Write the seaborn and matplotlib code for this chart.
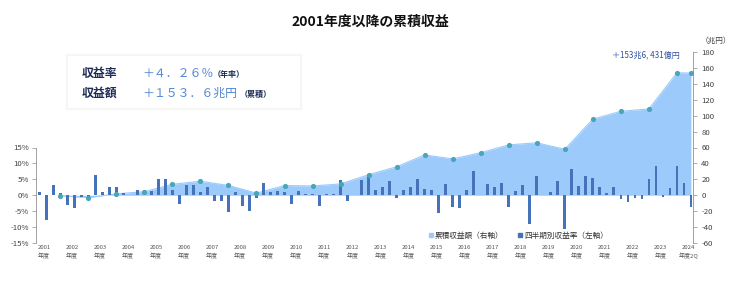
import numpy as np
import pandas as pd
import matplotlib
matplotlib.use("Agg")
import matplotlib.pyplot as plt
import seaborn as sns
from matplotlib.lines import Line2D
from matplotlib.patches import Rectangle

# ---------------- data ----------------
fiscal_years = list(range(2001, 2025))
quarterly_returns = [
    0.9, -7.8, 3.3, 0.8,     # 2001
    -3.0, -4.0, -0.5, -1.1,  # 2002
    6.3, 0.9, 2.5, 2.6,      # 2003
    0.7, 0.1, 1.7, 1.6,      # 2004
    1.3, 5.1, 5.2, 1.6,      # 2005
    -2.8, 3.1, 3.1, 0.9,     # 2006
    2.7, -1.9, -1.7, -5.4,   # 2007
    0.9, -3.4, -4.8, -0.8,   # 2008
    3.7, 0.9, 1.4, 1.1,      # 2009
    -2.8, 1.4, 0.5, 0.5,     # 2010
    -3.3, 0.3, 0.4, 4.8,     # 2011
    -1.8, 0.2, 4.8, 6.7,     # 2012
    1.6, 2.5, 4.6, -0.9,     # 2013
    1.6, 2.7, 5.1, 1.9,      # 2014
    1.6, -5.6, 3.4, -3.6,    # 2015
    -4.0, 1.6, 7.7, 0.2,     # 2016
    3.4, 2.7, 3.7, -3.6,     # 2017
    1.4, 3.3, -9.1, 5.9,     # 2018
    0.2, 0.9, 4.4, -10.7,    # 2019
    8.1, 2.9, 5.9, 5.4,      # 2020
    2.5, 0.8, 2.7, -1.3,     # 2021
    -2.0, -1.0, -1.1, 5.1,   # 2022
    9.2, -0.4, 2.4, 9.2,     # 2023
    3.7, -3.6,               # 2024 (to 2Q)
]
cumulative_trillion = [
    -0.6, -3.0, 1.8, 4.5, 13.8, 17.6, 12.3, 2.6, 12.2, 11.7, 14.2, 25.8,
    35.8, 50.7, 45.6, 53.5, 63.3, 65.9, 57.7, 95.6, 105.5, 108.4, 153.8, 153.6,
]
year_labels = [f"{y}\n年度" for y in fiscal_years[:-1]] + ["2024\n年度2Q"]
left_ticks = [-15, -10, -5, 0, 5, 10, 15]
left_tick_labels = ["-15%", "-10%", "-5%", "0%", "5%", "10%", "15%"]
right_ticks = [-60, -40, -20, 0, 20, 40, 60, 80, 100, 120, 140, 160, 180]
right_tick_labels = ["-60", "-40", "-20", "0", "20", "40", "60", "80", "100",
                     "120", "140", "160", "180"]

title = "2001年度以降の累積収益"
legend_labels = ["累積収益額（右軸）", "四半期別収益率（左軸）"]
total_note = "＋153兆6, 431億円"
unit_label = "（兆円）"

# ---------------- style ----------------
sns.set_style("white")
plt.rcParams["font.family"] = ["Noto Sans CJK JP", "DejaVu Sans"]
plt.rcParams["axes.unicode_minus"] = False

bar_color = "#4572b8"
area_color = "#9ccbfb"
dot_color = "#45a7b9"
axis_gray = "#a0a0a0"
text_gray = "#404040"

W, H = 749, 298
fig = plt.figure(figsize=(W / 100, H / 100), dpi=100)
fig.patch.set_facecolor("white")

def fx(px):
    return px / W

def fy(py):
    return 1 - py / H

# axes: left (bars), right (area), dots on top
ax = fig.add_axes([fx(36), fy(243), fx(693) - fx(36), fy(52) - fy(243)])
ax2 = ax.twinx()
ax3 = ax.twinx()
ax2.set_zorder(1)
ax.set_zorder(2)
ax3.set_zorder(3)
ax.patch.set_visible(False)

n_q = len(quarterly_returns)
df_q = pd.DataFrame({"pos": np.arange(n_q), "ret": quarterly_returns})
cum_pos = [4 * k + 3 for k in range(len(cumulative_trillion) - 1)] + [n_q - 1]
df_c = pd.DataFrame({"pos": cum_pos, "cum": cumulative_trillion})

# area (right axis)
ax2.fill_between(df_c["pos"], 0, df_c["cum"], color=area_color, lw=0)
sns.lineplot(data=df_c, x="pos", y="cum", ax=ax2, color=area_color, lw=0.8)

# bars (left axis)
sns.barplot(data=df_q, x="pos", y="ret", ax=ax, native_scale=True, width=0.38,
            color=bar_color, saturation=1, linewidth=0)

# dots
sns.scatterplot(data=df_c, x="pos", y="cum", ax=ax3, color=dot_color, s=14,
                linewidth=0, zorder=5)

xlim = (-0.47, n_q - 0.7)
for a in (ax, ax2, ax3):
    a.set_xlim(*xlim)
ax.set_ylim(-15, 45)
ax2.set_ylim(-60, 180)
ax3.set_ylim(-60, 180)
ax3.axis("off")

# left axis
ax.set_yticks(left_ticks)
ax.set_yticklabels(left_tick_labels)
for s in ("top", "right", "bottom"):
    ax.spines[s].set_visible(False)
ax.spines["left"].set_bounds(-15, 15)
ax.spines["left"].set_color(axis_gray)
ax.spines["left"].set_linewidth(0.7)
ax.tick_params(axis="y", direction="out", length=3, width=0.6, color=axis_gray,
               labelsize=5.6, labelcolor=text_gray, pad=2)
year_pos = [4 * k + 0.67 for k in range(len(fiscal_years))]
ax.set_xticks(year_pos)
ax.set_xticklabels(year_labels, fontsize=4.3, color="#555555", linespacing=1.5)
ax.tick_params(axis="x", length=0, pad=1.5)
ax.set_xlabel("")
ax.set_ylabel("")

# right axis
ax2.set_yticks(right_ticks)
ax2.set_yticklabels(right_tick_labels)
for s in ("top", "left", "bottom"):
    ax2.spines[s].set_visible(False)
ax2.spines["right"].set_color(axis_gray)
ax2.spines["right"].set_linewidth(0.7)
ax2.tick_params(axis="y", direction="out", length=3, width=0.6, color=axis_gray,
                labelsize=5.6, labelcolor=text_gray, pad=3)
ax2.set_ylabel("")

# title
fig.text(fx(370), fy(22), title, ha="center", va="center", fontsize=10,
         fontweight="bold", color="#111111")

# unit and note
fig.text(fx(716), fy(41), unit_label, ha="center", va="center", fontsize=5.5,
         color=text_gray)
fig.text(fx(646), fy(55), total_note, ha="center", va="center", fontsize=5.8,
         color="#2f4f9f")

# summary box with soft glow
for i, alpha in enumerate([0.025, 0.03, 0.035]):
    g = 3 - i
    fig.patches.append(Rectangle((fx(68 - g), fy(108 + g)), fx(232 + 2 * g),
                                 fy(0) - fy(52 + 2 * g),
                                 transform=fig.transFigure, facecolor="#888888",
                                 edgecolor="none", alpha=alpha, zorder=1))
fig.patches.append(Rectangle((fx(68), fy(108)), fx(232), fy(0) - fy(52),
                             transform=fig.transFigure, facecolor="white",
                             edgecolor="none", zorder=2))

navy = "#1d2d55"
blue = "#4f86d6"
fig.text(fx(82), fy(73), "収益率", ha="left", va="center", fontsize=8.6,
         fontweight="bold", color=navy, zorder=3)
fig.text(fx(142), fy(73), "＋４．２６％", ha="left", va="center", fontsize=8.6,
         color=blue, zorder=3)
fig.text(fx(213), fy(74), "（年率）", ha="left", va="center", fontsize=5.8,
         fontweight="bold", color=navy, zorder=3)
fig.text(fx(82), fy(93), "収益額", ha="left", va="center", fontsize=8.6,
         fontweight="bold", color=navy, zorder=3)
fig.text(fx(142), fy(93), "＋１５３．６兆円", ha="left", va="center", fontsize=8.6,
         color=blue, zorder=3)
fig.text(fx(240), fy(94), "（累積）", ha="left", va="center", fontsize=5.8,
         fontweight="bold", color=navy, zorder=3)

# legend
handles = [
    Line2D([], [], marker="s", ls="none", color=area_color, markersize=3.2,
           label=legend_labels[0]),
    Line2D([], [], marker="s", ls="none", color=bar_color, markersize=3.2,
           label=legend_labels[1]),
]
leg = fig.legend(handles=handles, loc="center", bbox_to_anchor=(fx(518), fy(236)),
                 ncol=2, frameon=False, fontsize=5.5, handletextpad=0.1,
                 columnspacing=1.8, handlelength=0.8, borderpad=0)
for t in leg.get_texts():
    t.set_color("#333333")

fig.savefig("out.png", dpi=100, facecolor="white")
